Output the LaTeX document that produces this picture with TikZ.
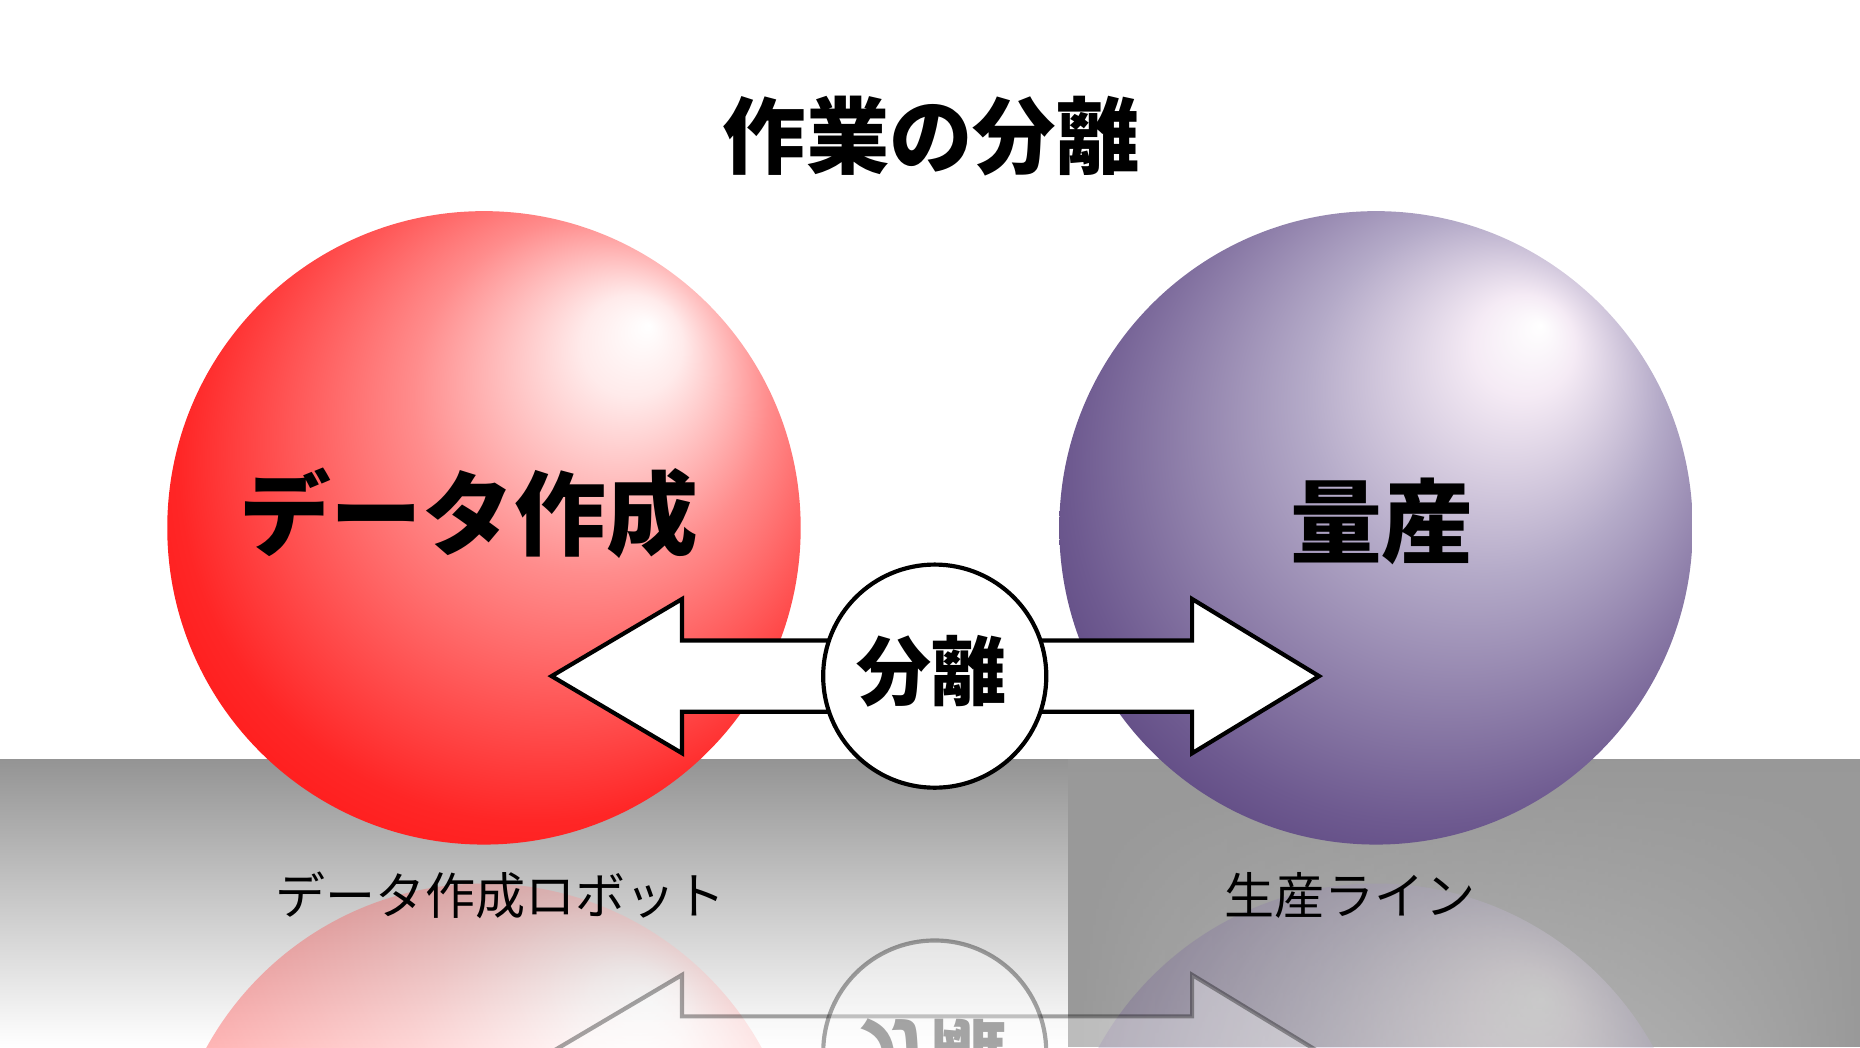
\documentclass[tikz,border=0pt]{standalone}
\usepackage{fontspec}
\setmainfont{Noto Sans CJK JP}
\usetikzlibrary{fadings}
\definecolor{pb2}{HTML}{B4AAC8}
\definecolor{pb3}{HTML}{6E5A90}
\definecolor{pb4}{HTML}{3A2262}
\pgfdeclareradialshading{redball}{\pgfpoint{13bp}{16bp}}{color(0bp)=(white); color(4bp)=(white!92!red); color(14bp)=(red!45); color(28bp)=(red!85); color(40bp)=(red)}
\pgfdeclareradialshading{purpleball}{\pgfpoint{13bp}{16bp}}{color(0bp)=(white); color(4bp)=(white!92!violet); color(14bp)=(pb2); color(28bp)=(pb3); color(40bp)=(pb4)}
\begin{document}
\begin{tikzpicture}[x=0.01cm,y=-0.01cm,
  big/.style={font=\bfseries\fontsize{22}{22}\selectfont},
  lbl/.style={font=\fontsize{12}{12}\selectfont},
  mid/.style={font=\bfseries\fontsize{18}{18}\selectfont},
  arrowshape/.style={fill=white,draw=black,line width=1pt,line join=miter}]
\useasboundingbox (0,0) rectangle (1568,883);
% floor
\shade[top color=black!42,bottom color=white] (0,640) rectangle (1568,883);
\fill[black!40,path fading=east] (1568,640) rectangle (900,883);
\fill[black!40,path fading=west] (900,640) rectangle (1568,883);
% reflections
\begin{scope}
\clip (0,712) rectangle (1568,883);
\begin{scope}[yshift=-14.56cm,yscale=-1,opacity=0.35]
 \shade[shading=redball] (408,445) circle (267);
 \shade[shading=purpleball] (1160,445) circle (267);
 \draw[arrowshape] (465,570)--(575,505)--(575,540)--(1005,540)--(1005,505)--(1112,570)--(1005,635)--(1005,600)--(575,600)--(575,635)--cycle;
 \draw[fill=white,line width=1pt] (788,570) circle (94);
 \node[mid,yscale=-1] at (785,568) {分離};
\end{scope}
\end{scope}
% spheres
\shade[shading=redball] (408,445) circle (267);
\shade[shading=purpleball] (1160,445) circle (267);
\node[big] (a) at (395,433) {データ作成};
\node[big] (b) at (1165,440) {量産};
% arrow
\draw[arrowshape] (465,570)--(575,505)--(575,540)--(1005,540)--(1005,505)--(1112,570)--(1005,635)--(1005,600)--(575,600)--(575,635)--cycle;
\node[circle,draw,fill=white,line width=1pt,minimum size=1.88cm,inner sep=0pt] (c) at (788,570) {};
\node[mid] (ct) at (785,566) {分離};
% title & labels
\node[font=\bfseries\fontsize{20}{20}\selectfont] (t) at (785,115) {作業の分離};
\node[lbl] (la) at (422,755) {データ作成ロボット};
\node[lbl] (lb) at (1138,755) {生産ライン};
\end{tikzpicture}
\end{document}
